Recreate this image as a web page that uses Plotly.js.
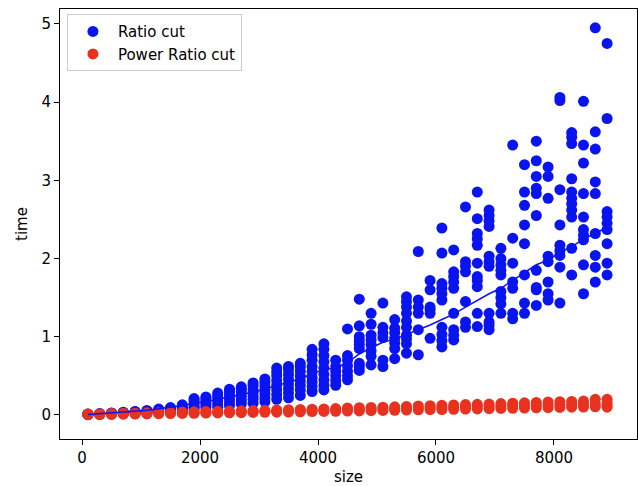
<!DOCTYPE html>
<html>
<head>
<meta charset="utf-8">
<script src="https://cdn.plot.ly/plotly-3.0.1.min.js"></script>
<style>
  html, body { margin: 0; padding: 0; background: #fff; }
  #chart { width: 638px; height: 486px; }
</style>
</head>
<body>
<div id="chart"></div>
<script>
// Problem sizes (x positions of each column of trials)
const sizes = [100,300,500,700,900,1100,1300,1500,1700,1900,2100,2300,2500,2700,2900,3100,3300,3500,3700,3900,4100,4300,4500,4700,4900,5100,5300,5500,5700,5900,6100,6300,6500,6700,6900,7100,7300,7500,7700,7900,8100,8300,8500,8700,8900];

// Ratio cut timings (one list per size)
const ratioCut = [
  [0.004,0.006,0.008,0.01,0.012],
  [0.008,0.01,0.012,0.015,0.018],
  [0.012,0.015,0.018,0.022,0.026],
  [0.018,0.022,0.026,0.03,0.035],
  [0.024,0.03,0.035,0.04,0.046],
  [0.03,0.037,0.044,0.05,0.058],
  [0.04,0.05,0.058,0.066,0.075],
  [0.05,0.062,0.075,0.085,0.095],
  [0.06,0.08,0.095,0.11,0.13],
  [0.08,0.1,0.13,0.16,0.19,0.21],
  [0.09,0.12,0.15,0.18,0.21,0.23],
  [0.1,0.14,0.18,0.22,0.25,0.28],
  [0.12,0.16,0.2,0.24,0.28,0.31,0.33],
  [0.14,0.18,0.22,0.26,0.3,0.34,0.36],
  [0.15,0.2,0.24,0.29,0.33,0.38,0.41],
  [0.17,0.22,0.27,0.32,0.37,0.42,0.46],
  [0.2,0.26,0.32,0.38,0.44,0.5,0.55,0.6],
  [0.22,0.28,0.34,0.4,0.46,0.52,0.58,0.62],
  [0.25,0.32,0.38,0.44,0.5,0.56,0.62,0.66],
  [0.3,0.36,0.42,0.48,0.55,0.62,0.7,0.77,0.84],
  [0.32,0.38,0.45,0.52,0.6,0.68,0.76,0.84,0.91],
  [0.38,0.44,0.5,0.56,0.62,0.7],
  [0.45,0.5,0.56,0.63,0.7,0.76,1.1],
  [0.57,0.62,0.66,0.85,0.9,0.95,1.0,1.14,1.48],
  [0.64,0.75,0.82,0.9,0.96,1.02,1.16,1.3],
  [0.62,0.7,0.99,1.05,1.12,1.43],
  [0.72,0.85,0.92,0.98,1.05,1.11,1.22],
  [0.79,0.91,0.97,1.02,1.12,1.2,1.3,1.38,1.45,1.51],
  [0.77,1.09,1.3,1.38,1.47,2.09],
  [0.98,1.3,1.35,1.38,1.6,1.72],
  [0.87,0.95,1.03,1.12,1.47,1.55,1.62,1.68,2.07,2.39],
  [0.96,1.02,1.09,1.3,1.62,1.7,1.77,1.83,2.11],
  [1.12,1.19,1.45,1.83,1.9,1.96,2.66],
  [1.13,1.3,1.64,1.72,1.77,1.94,2.17,2.25,2.32,2.51,2.85],
  [1.09,1.15,1.19,1.3,1.9,1.96,2.03,2.41,2.48,2.55,2.62],
  [1.3,1.42,1.5,1.58,1.79,1.85,1.92,2.0,2.13],
  [1.23,1.3,1.62,1.7,1.94,2.26,3.45],
  [1.3,1.43,1.79,2.19,2.43,2.68,2.85,3.2],
  [1.4,1.6,1.63,1.85,2.55,2.83,2.9,3.05,3.25,3.5],
  [1.47,1.55,1.7,1.96,2.03,2.77,3.05,3.17],
  [1.43,1.89,2.04,2.1,2.17,2.43,2.88,4.02,4.06],
  [1.79,2.13,2.53,2.62,2.7,2.77,2.85,3.02,3.47,3.55,3.61],
  [1.55,1.92,2.24,2.3,2.37,2.53,2.83,3.22,3.45,4.01],
  [1.7,1.89,2.04,2.32,2.83,2.98,3.4,3.62,4.95],
  [1.79,1.94,2.19,2.37,2.45,2.53,2.6,3.79,4.75]
];

// Mean Ratio cut time per size (thin line)
const ratioMean = [0.005,0.015,0.025,0.035,0.045,0.06,0.08,0.1,0.12,0.15,0.17,0.2,0.23,0.26,0.29,0.33,0.38,0.42,0.46,0.53,0.58,0.6,0.67,0.78,0.86,0.93,0.97,1.03,1.08,1.15,1.22,1.29,1.38,1.47,1.55,1.62,1.72,1.82,1.92,1.98,2.08,2.15,2.25,2.32,2.4];

// Power Ratio cut timings (one list per size)
const powerRatioCut = [
  [0.004,0.008,0.012],
  [0.006,0.01,0.015],
  [0.008,0.012,0.018],
  [0.01,0.015,0.021],
  [0.012,0.017,0.023],
  [0.014,0.02,0.027],
  [0.016,0.022,0.03],
  [0.018,0.026,0.033],
  [0.02,0.028,0.037],
  [0.022,0.031,0.04],
  [0.024,0.033,0.044],
  [0.026,0.036,0.047],
  [0.028,0.039,0.05],
  [0.03,0.041,0.053],
  [0.032,0.044,0.057],
  [0.034,0.047,0.06],
  [0.036,0.05,0.065],
  [0.038,0.052,0.067],
  [0.04,0.055,0.071],
  [0.043,0.058,0.074],
  [0.045,0.061,0.078],
  [0.047,0.064,0.082],
  [0.05,0.068,0.09],
  [0.052,0.072,0.093],
  [0.055,0.075,0.096],
  [0.058,0.078,0.1],
  [0.06,0.081,0.104],
  [0.063,0.086,0.109],
  [0.066,0.089,0.115],
  [0.068,0.092,0.118],
  [0.07,0.097,0.123],
  [0.073,0.1,0.128],
  [0.076,0.103,0.133],
  [0.078,0.107,0.137],
  [0.081,0.11,0.14],
  [0.084,0.114,0.146],
  [0.086,0.117,0.15],
  [0.089,0.121,0.155],
  [0.092,0.125,0.16],
  [0.094,0.128,0.166],
  [0.097,0.132,0.17],
  [0.1,0.135,0.173],
  [0.102,0.138,0.178],
  [0.105,0.143,0.2],
  [0.1,0.13,0.16,0.2]
];

const xTicks = [0,2000,4000,6000,8000];
const yTicks = [0,1,2,3,4,5];

function flatten(lists) {
  const xs = [], ys = [];
  lists.forEach((col, i) => col.forEach(v => { xs.push(sizes[i]); ys.push(v); }));
  return {xs, ys};
}
const blue = flatten(ratioCut);
const red = flatten(powerRatioCut);

const BLUE = '#0a14f0';
const RED = '#e8321f';
const FONT = 'DejaVu Sans, sans-serif';

const traces = [
  {x: blue.xs, y: blue.ys, type: 'scatter', mode: 'markers', name: 'Ratio cut',
   marker: {color: BLUE, size: 11, line: {width: 0}}},
  {x: red.xs, y: red.ys, type: 'scatter', mode: 'markers', name: 'Power Ratio cut',
   marker: {color: RED, size: 11, line: {width: 0}}},
  {x: sizes, y: ratioMean, type: 'scatter', mode: 'lines', showlegend: false,
   line: {color: BLUE, width: 1.5}}
];

const axisCommon = {
  showgrid: false, zeroline: false, showline: true, mirror: true,
  linecolor: '#000', linewidth: 1, ticks: 'outside', ticklen: 5, tickwidth: 1,
  tickcolor: '#000', tickfont: {family: FONT, size: 15, color: '#000'}
};

const layout = {
  width: 638, height: 486,
  margin: {l: 60, r: 1, t: 9, b: 47},
  paper_bgcolor: '#fff', plot_bgcolor: '#fff',
  font: {family: FONT, color: '#000'},
  xaxis: Object.assign({}, axisCommon, {
    range: [-373, 9407], tickmode: 'array', tickvals: xTicks,
    ticktext: xTicks.map(String),
    title: {text: 'size', font: {family: FONT, size: 15, color: '#000'}, standoff: 7}
  }),
  yaxis: Object.assign({}, axisCommon, {
    range: [-0.307, 5.19], tickmode: 'array', tickvals: yTicks,
    ticktext: yTicks.map(String),
    title: {text: 'time', font: {family: FONT, size: 15, color: '#000'}, standoff: 10}
  }),
  legend: {
    x: 0.012, y: 0.988, xanchor: 'left', yanchor: 'top',
    bgcolor: '#fff', bordercolor: '#cccccc', borderwidth: 1,
    font: {family: FONT, size: 15, color: '#000'},
    itemwidth: 40, tracegroupgap: 0
  },
  showlegend: true
};

Plotly.newPlot('chart', traces, layout, {displayModeBar: false, staticPlot: true});
</script>
</body>
</html>
